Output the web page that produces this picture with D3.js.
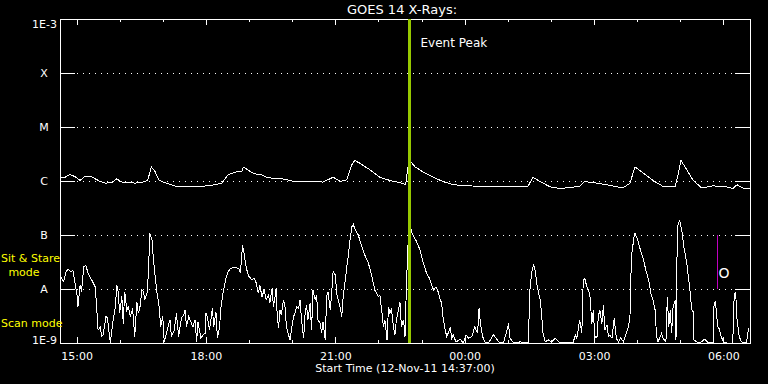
<!DOCTYPE html>
<html>
<head>
<meta charset="utf-8">
<script src="https://cdn.jsdelivr.net/npm/d3@7"></script>
<style>
body { margin: 0; background: #000; }
text { font-family: "DejaVu Sans", sans-serif; font-size: 11px; fill: #fff; }
</style>
</head>
<body>
<svg id="chart" width="768" height="384"></svg>
<script>
// start of the plotted window and its length
var startTime = new Date(2011, 10, 12, 14, 37, 0);
var spanMinutes = 960;

// flux class levels on the log axis
var classLevels = [1e-9, 1e-8, 1e-7, 1e-6, 1e-5, 1e-4, 1e-3];
var classLabels = ["1E-9", "A", "B", "C", "M", "X", "1E-3"];

// long channel (1-8 A): minutes after start, log10 flux
var longMinutes = [0,7,14,21,28,35,42,49,56,63,72,79,86,95,104,115,122,127,132,138,
  146,164,188,211,225,234,246,253,255,262,269,281,289,309,327,348,366,380,390,399,
  406,410,417,431,445,459,473,481,483,486,488,494,505,519,533,547,570,598,622,640,
  651,658,668,682,696,723,730,747,765,783,793,800,811,825,839,856,860,864,872,881,
  893,908,928,936,942,950,960];
var longLogFlux = [-5.94,-5.93,-5.88,-5.92,-5.99,-5.91,-5.91,-5.96,-6.01,-6.04,
  -6.03,-5.96,-6.02,-6.02,-6.04,-6.02,-5.99,-5.74,-5.82,-5.99,
  -6.03,-6.11,-6.11,-6.08,-6.04,-5.88,-5.83,-5.82,-5.74,-5.80,
  -5.86,-5.89,-5.94,-5.96,-6.01,-6.00,-6.02,-5.93,-6.01,-5.98,
  -5.70,-5.62,-5.67,-5.79,-5.93,-5.99,-6.03,-6.07,-5.85,-5.57,
  -5.64,-5.74,-5.83,-5.93,-6.01,-6.07,-6.09,-6.11,-6.10,-6.11,
  -6.10,-5.93,-6.01,-6.11,-6.14,-6.10,-6.01,-6.04,-6.08,-6.13,
  -6.04,-5.74,-5.85,-5.99,-6.10,-6.10,-5.88,-5.62,-5.79,-5.99,
  -6.13,-6.09,-6.11,-6.14,-6.07,-6.13,-6.13];

// short channel (0.5-4 A): minutes after start, log10 flux
var shortMinutes = [1,5,8,11,15,18,21,24,25,28,30,33,36,39,44,49,51,53,56,58,
  60,64,66,70,74,77,79,81,83,86,88,90,93,95,98,101,104,107,109,111,
  114,116,118,121,123,125,128,130,132,135,138,140,143,145,148,153,155,159,162,165,
  169,172,174,176,179,183,185,188,190,192,196,199,202,203,205,208,210,212,214,217,
  219,222,224,227,231,234,237,243,249,251,254,256,258,261,263,267,270,273,276,278,
  281,284,287,290,292,295,297,301,302,304,306,308,311,313,315,318,320,322,325,327,
  329,332,334,336,339,341,343,345,348,350,352,355,357,359,362,364,366,369,371,373,
  376,378,380,383,385,387,390,392,394,397,399,401,403,406,408,410,415,420,424,429,
  434,438,443,445,448,450,452,455,457,459,461,464,466,468,471,473,475,478,480,482,
  484,487,489,491,496,501,505,510,514,517,520,523,526,529,531,533,536,538,540,543,
  545,547,551,557,561,565,568,573,577,581,583,585,588,591,596,603,607,610,617,622,
  624,626,631,640,647,652,653,656,659,661,664,668,670,672,675,679,684,689,696,714,
  717,719,721,723,726,728,730,733,735,737,740,742,744,747,749,751,754,756,758,761,
  763,765,768,771,774,777,780,784,787,791,793,795,799,800,803,807,812,815,819,822,
  825,828,830,832,837,839,843,845,847,849,851,853,856,857,859,862,865,868,872,876,
  879,881,882,886,890,897,902,909,910,912,915,917,920,923,928,936,938,940,942,945,
  948,955,958];
var shortLogFlux = [-7.77,-7.86,-7.70,-7.63,-7.68,-7.65,-7.89,-8.14,-8.33,-7.93,
  -8.05,-7.59,-7.56,-7.71,-7.83,-7.96,-8.33,-8.76,-8.70,-8.88,
  -8.85,-8.51,-8.54,-9.00,-8.57,-8.33,-7.93,-8.05,-8.45,-8.14,
  -8.64,-8.05,-8.39,-8.33,-8.51,-8.36,-8.88,-8.24,-8.45,-8.36,
  -8.02,-8.05,-8.20,-8.08,-7.71,-6.97,-7.09,-7.46,-7.71,-8.08,
  -8.33,-8.70,-8.51,-8.98,-8.82,-8.57,-8.88,-8.76,-8.45,-8.88,
  -8.54,-8.48,-8.39,-8.70,-8.51,-8.64,-8.70,-8.57,-8.98,-8.61,
  -8.91,-8.85,-8.82,-8.45,-8.51,-8.76,-8.57,-8.36,-8.70,-8.42,
  -8.91,-8.70,-8.33,-8.05,-7.80,-7.68,-7.62,-7.60,-7.62,-7.71,
  -7.19,-7.34,-7.52,-7.71,-7.77,-7.83,-7.80,-7.89,-8.08,-7.93,
  -8.14,-8.02,-8.20,-8.11,-8.26,-7.99,-8.33,-7.99,-8.45,-8.73,
  -8.39,-8.48,-8.20,-8.33,-8.70,-8.85,-8.94,-8.76,-8.51,-8.45,
  -8.33,-8.36,-8.20,-8.57,-8.91,-8.45,-8.30,-8.57,-8.26,-8.76,
  -8.02,-8.20,-8.11,-8.57,-8.64,-8.82,-8.61,-8.94,-8.14,-8.05,
  -8.39,-8.08,-7.68,-7.74,-8.08,-8.20,-8.36,-8.51,-8.14,-7.83,
  -7.59,-7.40,-7.15,-6.85,-6.80,-6.88,-7.00,-7.22,-7.37,-7.52,
  -7.77,-8.02,-8.14,-8.11,-8.45,-8.70,-8.57,-8.94,-8.33,-8.45,
  -8.36,-8.70,-8.85,-8.57,-8.39,-8.24,-8.70,-8.57,-8.88,-7.93,
  -7.22,-6.75,-6.94,-7.00,-7.12,-7.28,-7.49,-7.71,-7.80,-7.93,
  -8.02,-7.96,-8.05,-8.20,-8.26,-8.54,-8.76,-8.88,-8.82,-8.70,
  -8.91,-8.85,-8.98,-8.93,-9.00,-8.85,-8.91,-8.88,-8.70,-8.82,
  -8.36,-8.64,-8.88,-8.98,-9.00,-8.85,-8.91,-8.98,-9.00,-8.76,
  -8.64,-8.91,-9.00,-8.98,-8.99,-9.00,-8.14,-7.71,-7.54,-7.65,
  -7.96,-8.20,-8.45,-8.82,-8.98,-8.94,-8.98,-8.91,-9.00,-8.99,
  -8.85,-8.91,-8.76,-8.57,-8.82,-7.83,-7.80,-7.96,-8.02,-8.08,
  -8.64,-8.39,-8.88,-8.91,-8.51,-8.39,-8.64,-8.30,-8.76,-8.67,
  -8.88,-8.85,-8.91,-8.54,-8.91,-8.98,-8.91,-8.98,-8.85,-8.70,
  -8.51,-7.40,-7.00,-6.97,-7.06,-7.25,-7.46,-7.65,-7.83,-8.08,
  -8.20,-8.39,-8.88,-8.98,-8.82,-8.91,-8.98,-8.14,-8.70,-8.39,
  -8.82,-8.33,-8.20,-8.94,-6.85,-6.72,-6.91,-7.22,-7.52,-7.96,
  -8.39,-8.42,-8.94,-8.98,-9.00,-8.93,-9.00,-8.99,-8.26,-8.24,
  -8.70,-8.73,-8.88,-8.98,-9.00,-9.00,-8.11,-8.05,-8.57,-8.88,
  -8.98,-9.00,-8.73];

// event peak marker and the mode marker near the right edge
var eventPeakMinute = 485;
var eventLabel = "Event Peak";
var markerMinute = 914;
var markerRange = [1e-8, 1e-7];
var markerLabel = "O";

var margin = {top: 19, right: 18, bottom: 41, left: 60};
var width = 768, height = 384;

var svg = d3.select("#chart");
svg.append("rect").attr("width", width).attr("height", height).attr("fill", "#000");

function minuteToDate(m) { return new Date(+startTime + m * 60000); }

var x = d3.scaleTime()
    .domain([startTime, minuteToDate(spanMinutes)])
    .range([margin.left, width - margin.right]);
var y = d3.scaleLog()
    .domain([1e-9, 1e-3])
    .range([height - margin.bottom, margin.top]);

var x0 = x.range()[0], x1 = x.range()[1];
var yb = y.range()[0], yt = y.range()[1];

// dotted class gridlines
svg.append("g").selectAll("line")
    .data(classLevels.slice(1, -1))
    .enter().append("line")
    .attr("x1", x0 + 17).attr("x2", x1 - 15)
    .attr("y1", function(d) { return Math.round(y(d)) + 0.5; })
    .attr("y2", function(d) { return Math.round(y(d)) + 0.5; })
    .attr("stroke", "#fff")
    .attr("stroke-dasharray", "1,5");

// time axes, majors every 3 hours, minors every hour
function timeAxis(axisFn, yPos, every, size, labels) {
  var ax = axisFn(x).ticks(d3.timeHour.every(every)).tickSizeInner(size).tickSizeOuter(0).tickPadding(9);
  ax.tickFormat(labels ? d3.timeFormat("%H:%M") : "");
  var g = svg.append("g").attr("transform", "translate(0," + yPos + ")").call(ax);
  g.select(".domain").remove();
  g.selectAll("line").attr("stroke", "#fff").attr("shape-rendering", "crispEdges");
  g.selectAll("text").attr("fill", "#fff").attr("font-family", "DejaVu Sans").attr("font-size", 11);
  return g;
}
timeAxis(d3.axisBottom, yb, 1, -3, false);
timeAxis(d3.axisBottom, yb, 3, -6, true);
timeAxis(d3.axisTop, yt, 1, -3, false);
timeAxis(d3.axisTop, yt, 3, -6, false);

// class axes on both sides
var yAxisLeft = d3.axisLeft(y).tickValues(classLevels).tickSizeInner(-15).tickSizeOuter(0)
    .tickFormat(function(d, i) { return classLabels[i]; });
var gl = svg.append("g").attr("transform", "translate(" + x0 + ",0)").call(yAxisLeft);
gl.select(".domain").remove();
gl.selectAll("line").attr("stroke", "#fff").attr("shape-rendering", "crispEdges");
gl.selectAll("text")
    .attr("fill", "#fff").attr("font-family", "DejaVu Sans").attr("font-size", 11)
    .attr("text-anchor", function(d, i) { return (i == 0 || i == classLevels.length - 1) ? "end" : "middle"; })
    .attr("x", function(d, i) { return (i == 0 || i == classLevels.length - 1) ? -3 : -16; })
    .attr("dy", function(d, i) { return i == 0 ? "0em" : (i == classLevels.length - 1 ? "0.75em" : "0.36em"); });

var yAxisRight = d3.axisRight(y).tickValues(classLevels).tickSizeInner(-15).tickSizeOuter(0).tickFormat("");
var gr = svg.append("g").attr("transform", "translate(" + x1 + ",0)").call(yAxisRight);
gr.select(".domain").remove();
gr.selectAll("line").attr("stroke", "#fff").attr("shape-rendering", "crispEdges");

// frame
svg.append("rect")
    .attr("x", x0 + 0.5).attr("y", yt + 0.5)
    .attr("width", x1 - x0).attr("height", yb - yt)
    .attr("fill", "none").attr("stroke", "#fff").attr("shape-rendering", "crispEdges");

svg.append("clipPath").attr("id", "plotClip")
  .append("rect").attr("x", x0).attr("y", yt).attr("width", x1 - x0 + 1).attr("height", yb - yt + 1);

var line = d3.line()
    .x(function(d) { return x(minuteToDate(d[0])); })
    .y(function(d) { return y(Math.pow(10, d[1])); });

var longData = longMinutes.map(function(m, i) { return [m, longLogFlux[i]]; });
var shortData = shortMinutes.map(function(m, i) { return [m, shortLogFlux[i]]; });

var plot = svg.append("g").attr("clip-path", "url(#plotClip)");
plot.append("path").datum(shortData)
    .attr("d", line).attr("fill", "none").attr("stroke", "#fff")
    .attr("stroke-width", 1).attr("shape-rendering", "crispEdges");
plot.append("path").datum(longData)
    .attr("d", line).attr("fill", "none").attr("stroke", "#fff")
    .attr("stroke-width", 1).attr("shape-rendering", "crispEdges");

// event peak line
var ex = Math.round(x(minuteToDate(eventPeakMinute))) + 0.5;
svg.append("line")
    .attr("x1", ex).attr("x2", ex).attr("y1", yt).attr("y2", yb)
    .attr("stroke", "#96c800").attr("stroke-width", 3).attr("shape-rendering", "crispEdges");
svg.append("text").attr("x", ex + 11).attr("y", 47).style("font-size", "12px").text(eventLabel);

// mode marker
var mx = Math.round(x(minuteToDate(markerMinute))) + 0.5;
svg.append("line")
    .attr("x1", mx).attr("x2", mx)
    .attr("y1", y(markerRange[1])).attr("y2", y(markerRange[0]))
    .attr("stroke", "#c000c0").attr("shape-rendering", "crispEdges");
svg.append("text").attr("x", mx + 1).attr("y", 278).style("font-size", "14px").text(markerLabel);

// titles
svg.append("text").attr("x", (x0 + x1) / 2 - 3).attr("y", 14)
    .attr("text-anchor", "middle").style("font-size", "13px").text("GOES 14 X-Rays:");
svg.append("text").attr("x", (x0 + x1) / 2).attr("y", 372)
    .attr("text-anchor", "middle").text("Start Time (12-Nov-11 14:37:00)");

// instrument mode notes
svg.append("text").attr("x", 1).attr("y", 262).style("fill", "#ffff00").text("Sit & Stare");
svg.append("text").attr("x", 24).attr("y", 276).attr("text-anchor", "middle").style("fill", "#ffff00").text("mode");
svg.append("text").attr("x", 1).attr("y", 327).style("fill", "#ffff00").text("Scan mode");
</script>
</body>
</html>
